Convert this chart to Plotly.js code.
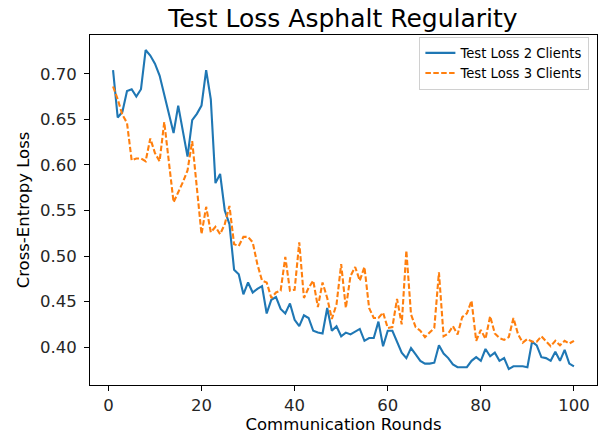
<!DOCTYPE html>
<html>
<head>
<meta charset="utf-8">
<script src="https://cdn.plot.ly/plotly-3.0.1.min.js"></script>
<style>html,body{margin:0;padding:0;background:#fff;}#chart{width:607px;height:438px;}</style>
</head>
<body>
<div id="chart"></div>
<script>
const rounds = Array.from({length: 100}, (_, k) => k + 1);
const loss2Clients = [
  0.704, 0.652, 0.658, 0.681, 0.683, 0.675, 0.683, 0.726, 0.720, 0.711,
  0.698, 0.677, 0.655, 0.635, 0.665, 0.637, 0.609, 0.649, 0.656, 0.665,
  0.704, 0.672, 0.580, 0.590, 0.550, 0.535, 0.485, 0.480, 0.458, 0.471,
  0.460, 0.464, 0.467, 0.437, 0.452, 0.455, 0.442, 0.437, 0.448, 0.430,
  0.423, 0.435, 0.432, 0.418, 0.416, 0.415, 0.443, 0.418, 0.423, 0.412,
  0.416, 0.414, 0.417, 0.420, 0.407, 0.410, 0.410, 0.428, 0.401, 0.418,
  0.418, 0.405, 0.394, 0.388, 0.399, 0.392, 0.385, 0.382, 0.382, 0.383,
  0.402, 0.393, 0.388, 0.381, 0.378, 0.378, 0.378, 0.385, 0.389, 0.385,
  0.398, 0.390, 0.394, 0.385, 0.388, 0.376, 0.379, 0.379, 0.379, 0.378,
  0.406, 0.402, 0.389, 0.388, 0.385, 0.395, 0.385, 0.397, 0.382, 0.379
];
const loss3Clients = [
  0.686, 0.672, 0.655, 0.646, 0.605, 0.607, 0.607, 0.604, 0.629, 0.613,
  0.604, 0.647, 0.603, 0.559, 0.570, 0.581, 0.594, 0.626, 0.575, 0.524,
  0.554, 0.526, 0.532, 0.524, 0.535, 0.555, 0.513, 0.511, 0.521, 0.521,
  0.515, 0.491, 0.473, 0.471, 0.454, 0.460, 0.462, 0.499, 0.462, 0.463,
  0.515, 0.454, 0.465, 0.473, 0.444, 0.471, 0.454, 0.431, 0.447, 0.491,
  0.443, 0.478, 0.488, 0.473, 0.488, 0.443, 0.432, 0.432, 0.438, 0.421,
  0.422, 0.453, 0.425, 0.506, 0.436, 0.422, 0.418, 0.411, 0.416, 0.421,
  0.482, 0.412, 0.415, 0.423, 0.414, 0.433, 0.437, 0.451, 0.407, 0.419,
  0.409, 0.434, 0.415, 0.410, 0.408, 0.411, 0.432, 0.414, 0.405, 0.409,
  0.406, 0.406, 0.412, 0.406, 0.401, 0.407, 0.402, 0.407, 0.404, 0.407
];
const seriesNames = ["Test Loss 2 Clients", "Test Loss 3 Clients"];
const xTicks = [0, 20, 40, 60, 80, 100];
const yTicks = [0.40, 0.45, 0.50, 0.55, 0.60, 0.65, 0.70];

const font = "DejaVu Sans, sans-serif";
const traces = [
  {x: rounds, y: loss2Clients, name: seriesNames[0], type: "scatter", mode: "lines",
   line: {color: "#1f77b4", width: 2.1}},
  {x: rounds, y: loss3Clients, name: seriesNames[1], type: "scatter", mode: "lines",
   line: {color: "#ff7f0e", width: 2.1, dash: "5.5px,2.4px"}}
];
const axisCommon = {
  showline: true, linecolor: "#000", linewidth: 1, mirror: true,
  ticks: "outside", ticklen: 5, tickwidth: 1, tickcolor: "#000",
  showgrid: false, zeroline: false, automargin: false,
  tickfont: {family: font, size: 16.5, color: "#262626"}
};
const layout = {
  width: 607, height: 438,
  margin: {l: 90, r: 10, t: 35, b: 53},
  paper_bgcolor: "#fff", plot_bgcolor: "#fff",
  showlegend: true,
  title: {text: "Test Loss Asphalt Regularity", font: {family: font, size: 25, color: "#000"},
          x: 0.565, xanchor: "center", y: 0.958, yanchor: "middle"},
  xaxis: Object.assign({}, axisCommon, {
    range: [-3.95, 104.95], tickvals: xTicks,
    title: {text: "Communication Rounds", font: {family: font, size: 16.5, color: "#000"}, standoff: 3}
  }),
  yaxis: Object.assign({}, axisCommon, {
    range: [0.3585, 0.7425], tickvals: yTicks, tickformat: ".2f", ticklabelstandoff: 4,
    title: {text: "Cross-Entropy Loss", font: {family: font, size: 16.5, color: "#000"}, standoff: 6}
  }),
  legend: {x: 0.985, y: 0.995, xanchor: "right", yanchor: "top",
           bgcolor: "rgba(255,255,255,0.8)", bordercolor: "#d0d0d0", borderwidth: 1,
           font: {family: font, size: 13.2, color: "#000"}, itemwidth: 30, tracegroupgap: 0}
};
Plotly.newPlot("chart", traces, layout, {displayModeBar: false, staticPlot: true});
</script>
</body>
</html>
